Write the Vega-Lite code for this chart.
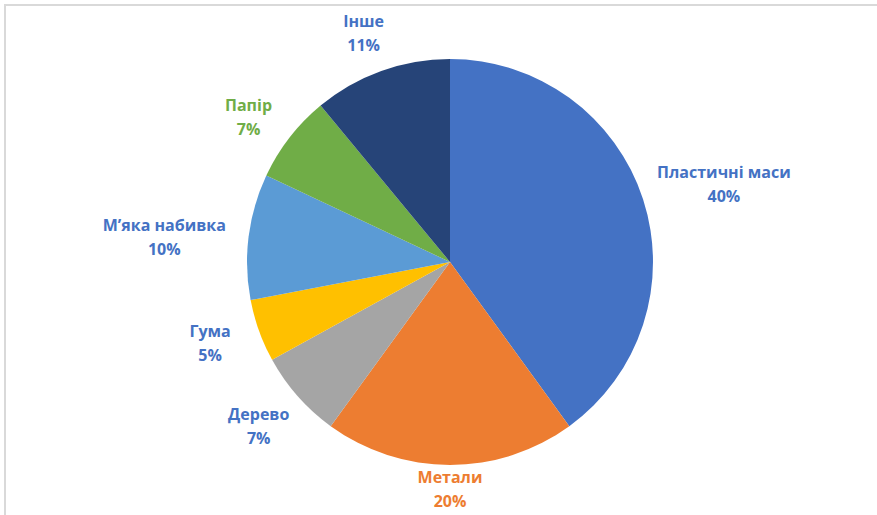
{
  "$schema": "https://vega.github.io/schema/vega-lite/v6.json",
  "width": 890,
  "height": 514,
  "padding": {"left": 5, "top": 5, "right": 0, "bottom": 0},
  "background": "white",
  "view": {"stroke": "#d9d9d9", "strokeWidth": 2},
  "data": {
    "values": [
      {"category": "Пластичні маси", "value": 40},
      {"category": "Метали", "value": 20},
      {"category": "Дерево", "value": 7},
      {"category": "Гума", "value": 5},
      {"category": "М’яка набивка", "value": 10},
      {"category": "Папір", "value": 7},
      {"category": "Інше", "value": 11}
    ]
  },
  "transform": [
    {"window": [{"op": "row_number", "as": "idx"}]},
    {"stack": "value", "groupby": [], "sort": [{"field": "idx", "order": "ascending"}], "as": ["v0", "v1"]},
    {"calculate": "(datum.v0 + datum.v1) / 2", "as": "vmid"},
    {"calculate": "datum.category + '\\n' + datum.value + '%'", "as": "label"}
  ],
  "layer": [
    {
      "mark": {"type": "arc", "outerRadius": 203},
      "encoding": {
        "theta": {"field": "v0", "type": "quantitative", "scale": {"domain": [0, 100]}},
        "theta2": {"field": "v1"},
        "color": {
          "field": "category",
          "type": "nominal",
          "sort": null,
          "scale": {
            "domain": ["Пластичні маси", "Метали", "Дерево", "Гума", "М’яка набивка", "Папір", "Інше"],
            "range": ["#4472C4", "#ED7D31", "#A5A5A5", "#FFC000", "#5B9BD5", "#70AD47", "#264478"]
          },
          "legend": null
        }
      }
    },
    {
      "transform": [{"filter": {"field": "category", "oneOf": ["Папір", "Інше"]}}],
      "mark": {"type": "text", "radius": 255, "font": "Open Sans", "fontWeight": "bold", "fontSize": 16, "lineBreak": "\n", "lineHeight": 24, "baseline": "middle"},
      "encoding": {
        "theta": {"field": "vmid", "type": "quantitative", "scale": {"domain": [0, 100]}},
        "text": {"field": "label"},
        "color": {"field": "category", "type": "nominal", "scale": {"domain": ["Пластичні маси", "Метали", "Дерево", "Гума", "М’яка набивка", "Папір", "Інше"], "range": ["#4472C4", "#ED7D31", "#4472C4", "#4472C4", "#4472C4", "#70AD47", "#4472C4"]}, "legend": null}
      }
    },
    {
      "transform": [{"filter": {"field": "category", "oneOf": ["Дерево", "Гума"]}}],
      "mark": {"type": "text", "radius": 255, "dy": -16, "font": "Open Sans", "fontWeight": "bold", "fontSize": 16, "lineBreak": "\n", "lineHeight": 24, "baseline": "middle"},
      "encoding": {
        "theta": {"field": "vmid", "type": "quantitative", "scale": {"domain": [0, 100]}},
        "text": {"field": "label"},
        "color": {"field": "category", "type": "nominal", "scale": {"domain": ["Пластичні маси", "Метали", "Дерево", "Гума", "М’яка набивка", "Папір", "Інше"], "range": ["#4472C4", "#ED7D31", "#4472C4", "#4472C4", "#4472C4", "#70AD47", "#4472C4"]}, "legend": null}
      }
    },
    {
      "transform": [{"filter": {"field": "category", "oneOf": ["Метали"]}}],
      "mark": {"type": "text", "radius": 232, "dy": -16, "font": "Open Sans", "fontWeight": "bold", "fontSize": 16, "lineBreak": "\n", "lineHeight": 24, "baseline": "middle"},
      "encoding": {
        "theta": {"field": "vmid", "type": "quantitative", "scale": {"domain": [0, 100]}},
        "text": {"field": "label"},
        "color": {"field": "category", "type": "nominal", "scale": {"domain": ["Пластичні маси", "Метали", "Дерево", "Гума", "М’яка набивка", "Папір", "Інше"], "range": ["#4472C4", "#ED7D31", "#4472C4", "#4472C4", "#4472C4", "#70AD47", "#4472C4"]}, "legend": null}
      }
    },
    {
      "transform": [{"filter": {"field": "category", "oneOf": ["Пластичні маси", "М’яка набивка"]}}],
      "mark": {"type": "text", "radius": 288, "font": "Open Sans", "fontWeight": "bold", "fontSize": 16, "lineBreak": "\n", "lineHeight": 24, "baseline": "middle"},
      "encoding": {
        "theta": {"field": "vmid", "type": "quantitative", "scale": {"domain": [0, 100]}},
        "text": {"field": "label"},
        "color": {"field": "category", "type": "nominal", "scale": {"domain": ["Пластичні маси", "Метали", "Дерево", "Гума", "М’яка набивка", "Папір", "Інше"], "range": ["#4472C4", "#ED7D31", "#4472C4", "#4472C4", "#4472C4", "#70AD47", "#4472C4"]}, "legend": null}
      }
    }
  ],
  "resolve": {"scale": {"color": "independent"}}
}
